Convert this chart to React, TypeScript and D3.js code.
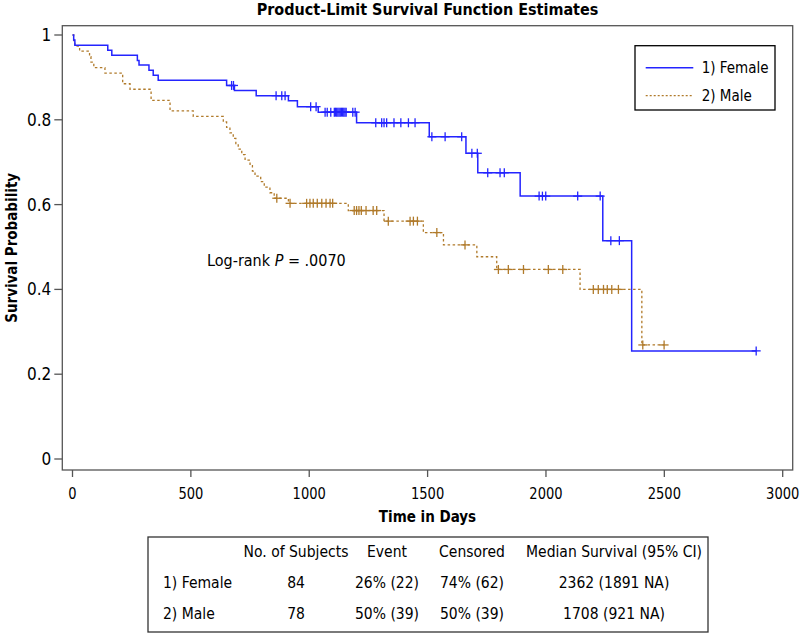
import React from "react";
import * as d3 from "d3";

// ---------- data ----------
const femaleEvents: [number, number][] = [
  [0, 1.0], [5, 0.988], [10, 0.976], [149, 0.964], [166, 0.952], [274, 0.94], [281, 0.929],
  [323, 0.917], [341, 0.905], [362, 0.893], [651, 0.881], [684, 0.869], [776, 0.857],
  [912, 0.845], [950, 0.831], [1038, 0.818], [1200, 0.793], [1507, 0.76], [1662, 0.721],
  [1712, 0.675], [1891, 0.62], [2240, 0.515], [2362, 0.255],
];
const femaleEnd = 2888;
const femaleCensored = [
  672, 680, 860, 884, 898, 1006, 1029, 1067, 1076, 1091, 1106, 1111, 1116, 1121, 1126, 1131,
  1136, 1141, 1146, 1151, 1156, 1184, 1194, 1281, 1306, 1316, 1327, 1358, 1387, 1419, 1447,
  1518, 1574, 1644, 1687, 1710, 1754, 1806, 1824, 1971, 1985, 1999, 2134, 2229, 2274, 2310, 2888,
];

const maleEvents: [number, number][] = [
  [0, 1.0], [5, 0.987], [10, 0.974], [30, 0.962], [72, 0.949], [78, 0.936], [90, 0.923],
  [137, 0.91], [212, 0.885], [243, 0.872], [332, 0.846], [412, 0.821], [510, 0.808],
  [637, 0.795], [651, 0.782], [665, 0.769], [679, 0.756], [690, 0.744], [700, 0.731],
  [715, 0.718], [729, 0.705], [750, 0.692], [760, 0.679], [771, 0.667], [795, 0.654],
  [810, 0.641], [834, 0.628], [852, 0.615], [912, 0.603], [1165, 0.586], [1316, 0.561],
  [1482, 0.534], [1567, 0.505], [1708, 0.477], [1792, 0.447], [2144, 0.4], [2405, 0.269],
];
const maleEnd = 2499;
const maleCensored = [
  863, 919, 989, 1003, 1017, 1034, 1053, 1071, 1088, 1099, 1190, 1200, 1210, 1220, 1240, 1270,
  1285, 1334, 1426, 1440, 1457, 1539, 1658, 1799, 1841, 1905, 2010, 2071, 2200, 2221, 2243,
  2259, 2278, 2306, 2409, 2499,
];

const xTicks = [0, 500, 1000, 1500, 2000, 2500, 3000];
const yTicks = [0, 0.2, 0.4, 0.6, 0.8, 1];
const yTickLabels = ["0", "0.2", "0.4", "0.6", "0.8", "1"];

const legendLabels = ["1) Female", "2) Male"];
const tableHeaders = ["No. of Subjects", "Event", "Censored", "Median Survival (95% CI)"];
const tableRowLabels = ["1) Female", "2) Male"];
const tableSubjects = ["84", "78"];
const tableEvent = ["26% (22)", "50% (39)"];
const tableCensored = ["74% (62)", "50% (39)"];
const tableMedian = ["2362 (1891 NA)", "1708 (921 NA)"];

// ---------- styling ----------
const FONT = "'Liberation Sans Narrow', 'DejaVu Sans Condensed', 'Arial Narrow', sans-serif";
const BLUE = "#2424ff";
const ORANGE = "#b07a2a";
const FRAME = "#555555";

const W = 800;
const H = 638;
const plot = { left: 62.3, top: 25.7, right: 792.7, bottom: 470 };

function stepValue(events: [number, number][], t: number) {
  let v = 1;
  for (const [d, s] of events) if (d <= t) v = s;
  return v;
}

export default function App() {
  const x = d3.scaleLinear().domain([0, 3000]).range([72.5, 782.7]);
  const y = d3.scaleLinear().domain([0, 1]).range([459, 35]);

  const line = d3
    .line<[number, number]>()
    .x((d) => x(d[0]))
    .y((d) => y(d[1]))
    .curve(d3.curveStepAfter);

  const fPts: [number, number][] = [...femaleEvents, [femaleEnd, femaleEvents[femaleEvents.length - 1][1]]];
  const mPts: [number, number][] = [...maleEvents, [maleEnd, maleEvents[maleEvents.length - 1][1]]];

  const cross = (cx: number, cy: number, color: string, key: string) => (
    <g key={key} stroke={color} strokeWidth={1.3}>
      <line x1={cx - 4.5} x2={cx + 4.5} y1={cy} y2={cy} />
      <line x1={cx} x2={cx} y1={cy - 4.5} y2={cy + 4.5} />
    </g>
  );

  const midX = (plot.left + plot.right) / 2;
  const tbl = { left: 148, top: 537, right: 708, bottom: 632 };
  const colX = [296, 387, 472, 614];
  const rowY = [557, 588, 619];

  return (
    <svg
      width={W}
      height={H}
      style={{ position: "absolute", left: 0, top: 0, background: "#fff" }}
      fontFamily={FONT}
    >
      <rect width={W} height={H} fill="#fff" />
      {/* title */}
      <text x={midX} y={14.5} textAnchor="middle" fontSize={16} fontWeight="bold" fill="#000">
        Product-Limit Survival Function Estimates
      </text>

      {/* frame */}
      <rect
        x={plot.left}
        y={plot.top}
        width={plot.right - plot.left}
        height={plot.bottom - plot.top}
        fill="none"
        stroke={FRAME}
        strokeWidth={1.3}
      />

      {/* y axis */}
      {yTicks.map((t, i) => (
        <g key={"y" + i}>
          <line x1={plot.left - 8} x2={plot.left} y1={y(t)} y2={y(t)} stroke={FRAME} strokeWidth={1.3} />
          <text x={plot.left - 11} y={y(t) + 6} textAnchor="end" fontSize={17} fill="#000">
            {yTickLabels[i]}
          </text>
        </g>
      ))}
      <text
        transform={`translate(17,${(plot.top + plot.bottom) / 2}) rotate(-90)`}
        textAnchor="middle"
        fontSize={15}
        fontWeight="bold"
        fill="#000"
      >
        Survival Probability
      </text>

      {/* x axis */}
      {xTicks.map((t) => (
        <g key={"x" + t}>
          <line x1={x(t)} x2={x(t)} y1={plot.bottom} y2={plot.bottom + 7} stroke={FRAME} strokeWidth={1.3} />
          <text
            transform={`translate(${x(t)},${plot.bottom + 29}) scale(0.88,1)`}
            textAnchor="middle"
            fontSize={16.5}
            fill="#000"
          >
            {t}
          </text>
        </g>
      ))}
      <text x={midX} y={522} textAnchor="middle" fontSize={15} fontWeight="bold" fill="#000">
        Time in Days
      </text>

      {/* curves */}
      <path d={line(mPts) || ""} fill="none" stroke={ORANGE} strokeWidth={1.3} strokeDasharray="2.5,2.5" />
      <path d={line(fPts) || ""} fill="none" stroke={BLUE} strokeWidth={1.5} />
      {maleCensored.map((t, i) => cross(x(t), y(stepValue(maleEvents, t)), ORANGE, "mc" + i))}
      {femaleCensored.map((t, i) => cross(x(t), y(stepValue(femaleEvents, t)), BLUE, "fc" + i))}

      {/* log-rank annotation */}
      <text x={207} y={266} fontSize={16} fill="#000">
        Log-rank <tspan fontStyle="italic">P</tspan> = .0070
      </text>

      {/* legend */}
      <rect x={635} y={45.7} width={140} height={64.3} fill="#fff" stroke="#000" strokeWidth={1.3} />
      <line x1={645.7} x2={693.3} y1={67.7} y2={67.7} stroke={BLUE} strokeWidth={1.5} />
      <line x1={645.7} x2={693.3} y1={95.7} y2={95.7} stroke={ORANGE} strokeWidth={1.3} strokeDasharray="2,2" />
      <text x={701.7} y={73} fontSize={15} fill="#000">{legendLabels[0]}</text>
      <text x={701.7} y={101} fontSize={15} fill="#000">{legendLabels[1]}</text>

      {/* table */}
      <rect
        x={tbl.left}
        y={tbl.top}
        width={tbl.right - tbl.left}
        height={tbl.bottom - tbl.top}
        fill="#fff"
        stroke="#333"
        strokeWidth={1.3}
      />
      {tableHeaders.map((h, i) => (
        <text key={"h" + i} x={colX[i]} y={rowY[0]} textAnchor="middle" fontSize={15.5} fill="#000">
          {h}
        </text>
      ))}
      {tableRowLabels.map((lab, r) => (
        <g key={"r" + r}>
          <text x={163} y={rowY[r + 1]} fontSize={15.5} fill="#000">{lab}</text>
          <text x={colX[0]} y={rowY[r + 1]} textAnchor="middle" fontSize={15.5} fill="#000">{tableSubjects[r]}</text>
          <text x={colX[1]} y={rowY[r + 1]} textAnchor="middle" fontSize={15.5} fill="#000">{tableEvent[r]}</text>
          <text x={colX[2]} y={rowY[r + 1]} textAnchor="middle" fontSize={15.5} fill="#000">{tableCensored[r]}</text>
          <text x={colX[3]} y={rowY[r + 1]} textAnchor="middle" fontSize={15.5} fill="#000">{tableMedian[r]}</text>
        </g>
      ))}
    </svg>
  );
}
